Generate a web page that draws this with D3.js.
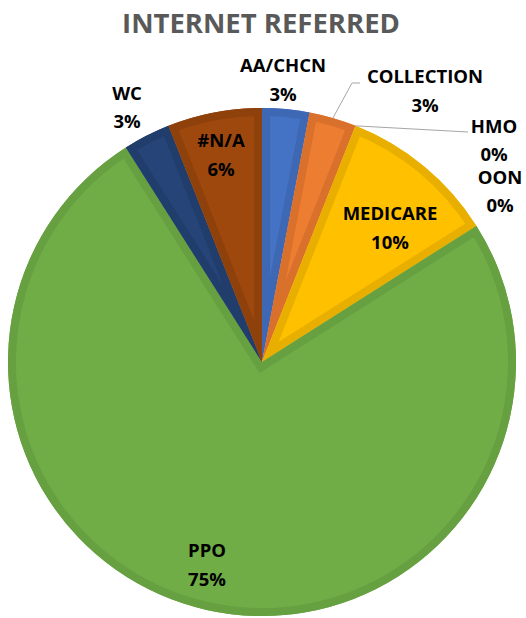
<!DOCTYPE html>
<html>
<head>
<meta charset="utf-8">
<script src="https://cdn.jsdelivr.net/npm/d3@7"></script>
<style>
  body { margin: 0; background: #fff; }
  svg text { font-family: "Open Sans", sans-serif; font-weight: bold; }
</style>
</head>
<body>
<div id="chart"></div>
<script>
// data
var categories = ["AA/CHCN", "COLLECTION", "HMO", "OON", "MEDICARE", "PPO", "WC", "#N/A"];
var shares = [3, 3, 0, 0, 10, 75, 3, 6];
var fills = ["#4472C4", "#ED7D31", "#A5A5A5", "#5B9BD5", "#FFC000", "#70AD47", "#264478", "#9E480E"];
var bevels = ["#3E68B4", "#D9712C", "#979797", "#5390C6", "#E8AF00", "#66A041", "#213D6C", "#8F410C"];

// label layout: centre x, baseline of first line, line gap, leader line (label side) or null
var labelPos = [
  {x: 283, y: 72, gap: 29, lead: null},
  {x: 425, y: 83, gap: 29, lead: [[360, 83], [352, 83]]},
  {x: 494, y: 133, gap: 28, lead: [[468, 132]]},
  {x: 500, y: 184, gap: 28, lead: null},
  {x: 390, y: 220, gap: 29, lead: null},
  {x: 207, y: 557, gap: 29, lead: null},
  {x: 127, y: 100, gap: 28, lead: null},
  {x: 221, y: 147, gap: 29, lead: null}
];

var width = 526, height = 618;
var cx = 262, cy = 362, radius = 254;

var svg = d3.select("#chart").append("svg")
  .attr("width", width)
  .attr("height", height);

svg.append("text")
  .attr("x", 261)
  .attr("y", 33)
  .attr("text-anchor", "middle")
  .style("font-size", "27.5px")
  .style("fill", "#595959")
  .text("INTERNET REFERRED");

var data = categories.map(function(c, i) { return {name: c, value: shares[i], i: i}; });

var pie = d3.pie()
  .sort(null)
  .value(function(d) { return d.value; });

var arc = d3.arc()
  .innerRadius(0)
  .outerRadius(radius);

var arcs = pie(data);
var total = d3.sum(shares);

var g = svg.append("g")
  .attr("transform", "translate(" + cx + "," + cy + ")");

var defs = svg.append("defs");

arcs.forEach(function(a, i) {
  if (a.endAngle - a.startAngle <= 0) return;
  defs.append("clipPath")
    .attr("id", "clip" + i)
    .append("path")
    .attr("d", arc(a));
  g.append("path")
    .attr("d", arc(a))
    .style("fill", fills[i]);
  // inner bevel band
  g.append("path")
    .attr("d", arc(a))
    .attr("clip-path", "url(#clip" + i + ")")
    .style("fill", "none")
    .style("stroke", bevels[i])
    .style("stroke-width", 16)
    .style("stroke-linejoin", "miter");
});

// leader lines
arcs.forEach(function(a, i) {
  var p = labelPos[i];
  if (!p.lead) return;
  var mid = (a.startAngle + a.endAngle) / 2;
  var end = [cx + radius * Math.sin(mid), cy - radius * Math.cos(mid)];
  var pts = p.lead.concat([end]);
  svg.append("path")
    .attr("d", d3.line()(pts))
    .style("fill", "none")
    .style("stroke", "#A6A6A6")
    .style("stroke-width", 1);
});

// labels
arcs.forEach(function(a, i) {
  var p = labelPos[i];
  var t = svg.append("text")
    .attr("text-anchor", "middle")
    .style("font-size", "18.5px")
    .style("fill", "#000");
  t.append("tspan")
    .attr("x", p.x)
    .attr("y", p.y)
    .text(categories[i]);
  t.append("tspan")
    .attr("x", p.x)
    .attr("y", p.y + p.gap)
    .text(Math.round(shares[i] / total * 100) + "%");
});
</script>
</body>
</html>
